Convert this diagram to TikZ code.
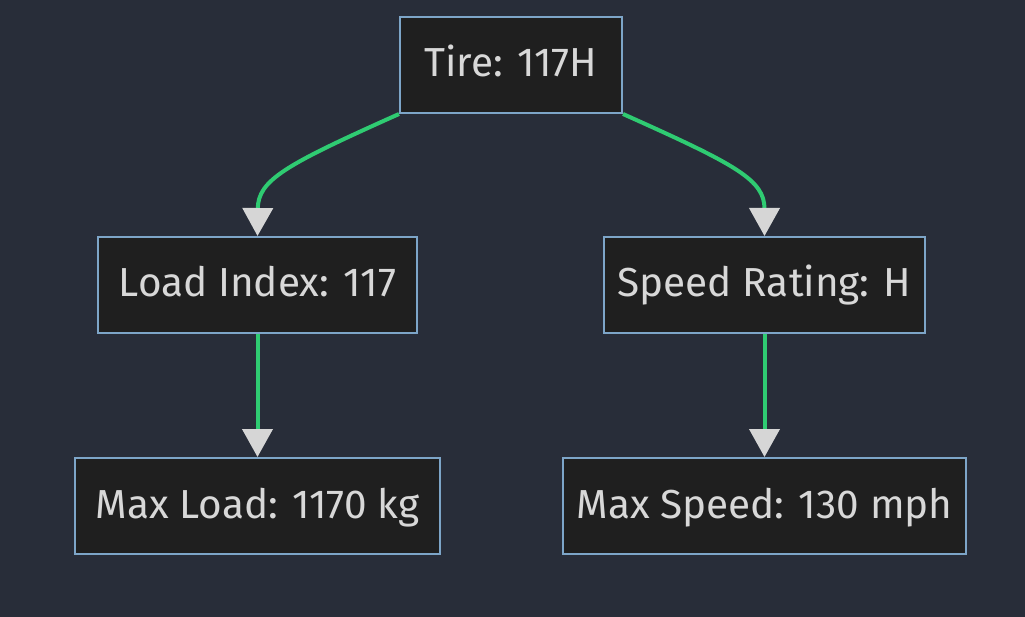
\documentclass[tikz,border=0pt]{standalone}
\usepackage{fontspec}
\setmainfont{Fira Sans}
\usetikzlibrary{arrows.meta}
\definecolor{bgdark}{HTML}{282D39}
\definecolor{boxfill}{HTML}{1F1F1F}
\definecolor{boxline}{HTML}{7DA5C8}
\definecolor{edgegreen}{HTML}{2FCB72}
\definecolor{tipgray}{HTML}{D6D6D6}
\definecolor{labelgray}{HTML}{D8D8D8}
\tikzset{
  spec/.style={draw=boxline, line width=2pt, fill=boxfill, text=labelgray,
    minimum height=96pt, inner xsep=10pt, text height=31pt, text depth=7pt,
    font=\fontsize{40.5}{48}\selectfont},
  link/.style={draw=edgegreen, line width=4pt,
    -{Triangle[width=30pt,length=28pt,fill=tipgray,color=tipgray]}}
}
\begin{document}
\begin{tikzpicture}[x=1pt, y=-1pt]
      \useasboundingbox[fill=bgdark] (0,0) rectangle (1025,617);
      \draw
        (511,65) node[spec, minimum width=222pt] (tire){Tire: 117H}
        (257.5,285) node[spec, minimum width=319pt] (load){Load Index: 117}
        (764.5,285) node[spec, minimum width=321pt] (speed){Speed Rating: H}
        (257.5,506) node[spec, minimum width=365pt] (maxload){Max Load: 1170 kg}
        (764.5,506) node[spec, minimum width=403pt] (maxspeed){Max Speed: 130 mph};
      \begin{scope}[link]
        \draw (tire.south west) .. controls (285,165) and (258,180) .. (load.north);
        \draw (tire.south east) .. controls (737,165) and (764.5,180) .. (speed.north);
        \draw (load) to (maxload);
        \draw (speed) to (maxspeed);
      \end{scope}
    \end{tikzpicture}
\end{document}
